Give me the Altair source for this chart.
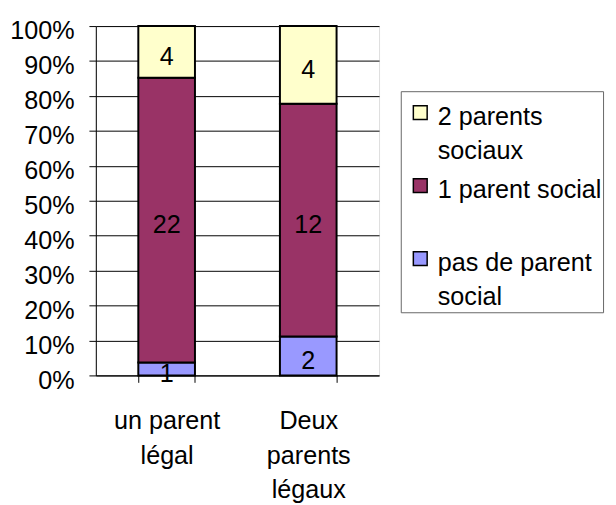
import altair as alt
import pandas as pd

categories = ["un parent légal", "Deux parents légaux"]
category_lines = [["un parent", "légal"], ["Deux", "parents", "légaux"]]
series = ["pas de parent social", "1 parent social", "2 parents sociaux"]
series_lines = [["pas de parent", "social"], ["1 parent social", ""], ["2 parents", "sociaux"]]
counts_pas = [1, 2]
counts_un = [22, 12]
counts_deux = [4, 4]
colors = ["#9999FF", "#993366", "#FFFFCC"]
y_ticks = [0, 0.1, 0.2, 0.3, 0.4, 0.5, 0.6, 0.7, 0.8, 0.9, 1.0]

rows = []
for ci, cat in enumerate(categories):
    for si, (s, vals) in enumerate(zip(series, [counts_pas, counts_un, counts_deux])):
        rows.append({"cat": cat, "serie": s, "ord": si, "value": vals[ci]})
df = pd.DataFrame(rows)

FONT = "Liberation Sans"
FS = 25.5


def js_list(lines):
    return "[" + ",".join("'" + l + "'" for l in lines) + "]"


def mapping_expr(keys, values):
    expr = "''"
    for k, v in reversed(list(zip(keys, values))):
        expr = f"(datum.label == '{k}' ? {js_list(v)} : {expr})"
    return expr


x_label_expr = mapping_expr(categories, category_lines)
legend_label_expr = mapping_expr(series, series_lines)

x_enc = alt.X(
    "cat:N",
    sort=categories,
    scale=alt.Scale(paddingInner=0.6, paddingOuter=0.3),
    axis=alt.Axis(
        title=None,
        labelAngle=0,
        labelExpr=x_label_expr,
        labelFont=FONT,
        labelFontSize=FS,
        labelColor="black",
        labelLineHeight=35,
        labelBaseline="top",
        labelPadding=27,
        tickBand="extent",
        tickColor="black",
        tickSize=7,
        domainColor="black",
        labelLimit=300,
    ),
)

bars = alt.Chart(df).mark_bar(stroke="black", strokeWidth=2).encode(
    x=x_enc,
    y=alt.Y(
        "value:Q",
        stack="normalize",
        scale=alt.Scale(domain=[0, 1]),
        axis=alt.Axis(
            title=None,
            values=y_ticks,
            tickCount=11,
            labelOverlap=False,
            format=".0%",
            labelFont=FONT,
            labelFontSize=FS,
            labelColor="black",
            labelPadding=15,
            labelOffset=5,
            tickColor="black",
            tickSize=7,
            domainColor="black",
            gridColor="black",
            gridWidth=1,
        ),
    ),
    color=alt.Color(
        "serie:N",
        scale=alt.Scale(domain=series[::-1], range=colors[::-1]),
        legend=alt.Legend(
            title=None,
            orient="none",
            legendX=309,
            legendY=66,
            fillColor="white",
            strokeColor="#666666",
            padding=1,
            labelFont=FONT,
            labelFontSize=FS,
            labelColor="black",
            labelExpr=legend_label_expr,
            labelBaseline="top",
            labelOffset=5,
            labelLimit=300,
            symbolType="M-1,0.14H1V2.14H-1Z",
            symbolSize=196,
            symbolOffset=6,
            symbolStrokeColor="black",
            symbolStrokeWidth=1.5,
            symbolOpacity=1,
            rowPadding=0,
        ),
    ),
    order=alt.Order("ord:Q"),
)

texts = alt.Chart(df).transform_joinaggregate(
    total="sum(value)", groupby=["cat"]
).transform_window(
    cum="sum(value)", groupby=["cat"], sort=[alt.SortField("ord")], frame=[None, 0]
).transform_calculate(
    mid="(datum.cum - datum.value / 2) / datum.total"
).mark_text(font=FONT, fontSize=FS, color="black", baseline="middle", dy=5).encode(
    x=alt.X("cat:N", sort=categories),
    y=alt.Y("mid:Q"),
    text=alt.Text("value:Q"),
)

chart = (
    alt.layer(bars, texts)
    .properties(
        width=287,
        height=354,
        autosize=alt.AutoSizeParams(type="none"),
        padding={"left": 89, "top": 15, "right": 232, "bottom": 128},
    )
    .configure_view(fill="#C0C0C0", stroke="#808080", strokeWidth=1)
    .configure(style={"guide-label": {"lineHeight": 35}})
)

chart.save("out.html", embed_options={"renderer": "svg", "actions": False})
